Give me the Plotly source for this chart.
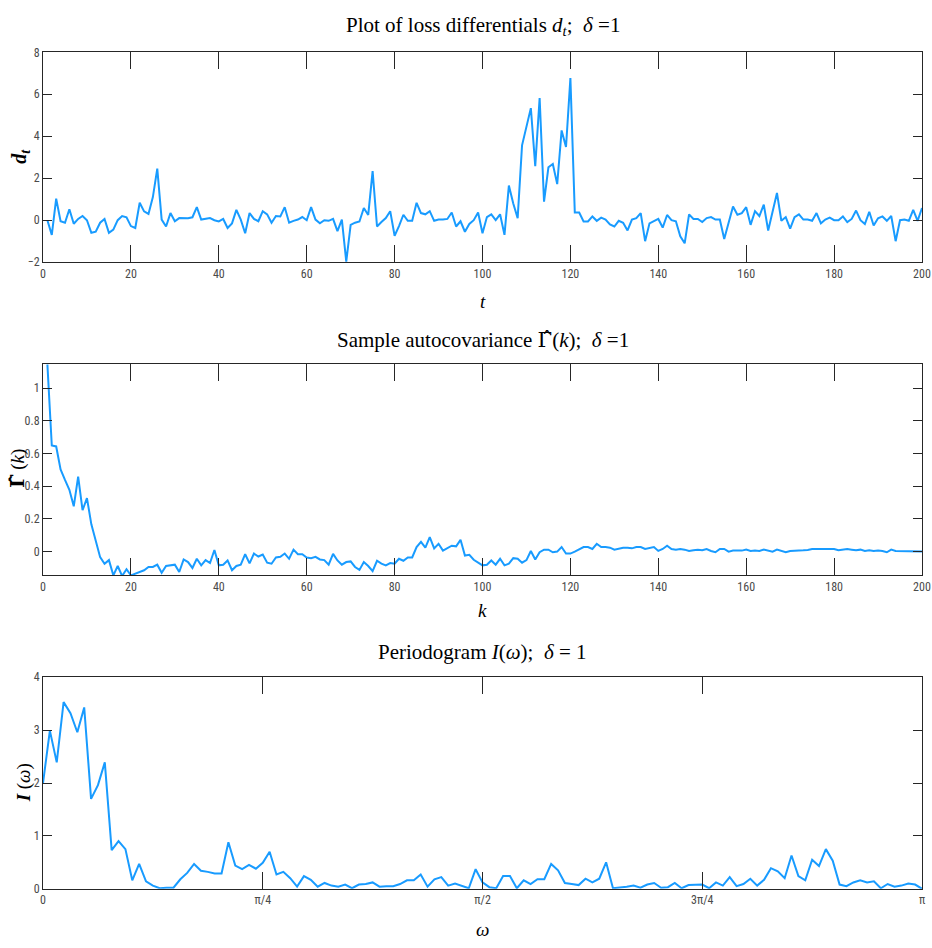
import numpy as np
import plotly.graph_objects as go

# ---------------- data ----------------
t_vals = list(range(1, 201))
d_vals = [
    0.0, -0.7, 1.03, -0.05, -0.12, 0.52, -0.17, 0.06, 0.2, 0.0,
    -0.6, -0.55, -0.12, 0.06, -0.6, -0.45, 0.0, 0.2, 0.14, -0.28,
    -0.37, 0.83, 0.42, 0.3, 1.1, 2.46, 0.03, -0.3, 0.34, -0.05,
    0.1, 0.1, 0.09, 0.14, 0.62, 0.03, 0.06, 0.1, 0.0, -0.06,
    0.06, -0.37, -0.15, 0.49, 0.03, -0.62, 0.34, 0.06, -0.05, 0.43,
    0.28, -0.12, 0.2, 0.18, 0.62, -0.12, -0.03, 0.03, 0.15, 0.0,
    0.62, 0.03, -0.15, 0.0, -0.03, 0.06, -0.52, 0.03, -1.97, -0.22,
    -0.12, -0.06, 0.58, 0.25, 2.34, -0.3, -0.09, 0.1, 0.43, -0.74,
    -0.28, 0.26, -0.03, -0.03, 0.83, 0.34, 0.28, 0.43, -0.03, 0.03,
    0.03, 0.06, 0.37, -0.3, -0.05, -0.55, -0.18, 0.0, 0.37, -0.62,
    0.15, 0.28, 0.0, 0.28, -0.7, 1.65, 0.8, 0.1, 3.57, 4.5,
    5.34, 2.58, 5.82, 0.88, 2.52, 2.68, 1.72, 4.28, 3.49, 6.77,
    0.37, 0.37, -0.06, -0.06, 0.18, -0.03, 0.12, 0.03, -0.2, -0.3,
    -0.03, -0.12, -0.49, 0.03, 0.1, 0.34, -1.0, -0.15, -0.05, 0.06,
    -0.35, 0.25, 0.0, -0.05, -0.77, -1.1, 0.28, 0.06, 0.06, -0.09,
    0.1, 0.15, 0.03, 0.03, -0.9, -0.15, 0.65, 0.26, 0.34, 0.62,
    -0.22, 0.43, 0.2, 0.74, -0.49, 0.4, 1.3, -0.03, 0.15, -0.4,
    0.15, 0.28, 0.03, 0.03, -0.03, 0.34, -0.15, 0.03, 0.12, 0.0,
    0.0, 0.18, -0.09, 0.06, 0.46, 0.0, -0.18, 0.4, -0.25, 0.09,
    0.18, -0.03, 0.2, -1.0, 0.0, 0.03, -0.03, 0.49, -0.03, 0.58,
]

k_vals = list(range(1, 201))
gamma_vals = [
    1.145, 0.649, 0.643, 0.502, 0.438, 0.378, 0.277, 0.458, 0.253, 0.327,
    0.167, 0.066, -0.034, -0.074, -0.052, -0.145, -0.088, -0.149, -0.108, -0.145,
    -0.135, -0.125, -0.114, -0.094, -0.094, -0.080, -0.129, -0.088, -0.084, -0.080,
    -0.125, -0.048, -0.064, -0.100, -0.044, -0.084, -0.052, -0.070, 0.010, -0.084,
    -0.080, -0.054, -0.114, -0.088, -0.080, -0.016, -0.072, -0.012, -0.030, -0.018,
    -0.068, -0.074, -0.036, -0.032, -0.012, -0.044, 0.012, -0.016, -0.016, -0.036,
    -0.040, -0.032, -0.048, -0.052, -0.080, -0.014, -0.054, -0.080, -0.064, -0.060,
    -0.094, -0.112, -0.064, -0.088, -0.120, -0.056, -0.074, -0.084, -0.070, -0.074,
    -0.044, -0.056, -0.036, -0.036, 0.028, 0.060, 0.024, 0.088, 0.020, 0.048,
    0.006, 0.020, 0.036, 0.032, 0.072, -0.024, -0.020, -0.050, -0.066, -0.084,
    -0.080, -0.054, -0.080, -0.044, -0.084, -0.074, -0.040, -0.044, -0.068, -0.052,
    0.004, -0.048, -0.004, 0.012, 0.012, -0.004, 0.000, 0.028, -0.012, -0.012,
    0.000, 0.012, 0.028, 0.028, 0.016, 0.048, 0.028, 0.028, 0.024, 0.012,
    0.020, 0.024, 0.024, 0.020, 0.028, 0.028, 0.016, 0.020, 0.028, 0.004,
    0.016, 0.036, 0.016, 0.012, 0.016, 0.012, 0.004, 0.008, 0.012, 0.008,
    0.016, 0.004, -0.004, 0.016, 0.016, 0.000, 0.006, 0.006, 0.006, 0.012,
    0.004, 0.006, 0.004, 0.012, 0.008, 0.000, 0.012, 0.004, -0.004, 0.004,
    0.004, 0.006, 0.008, 0.010, 0.016, 0.016, 0.016, 0.012, 0.016, 0.016,
    0.008, 0.012, 0.016, 0.012, 0.008, 0.012, 0.004, 0.008, 0.004, 0.006,
    0.004, -0.004, 0.012, 0.004, 0.004, 0.004, 0.004, 0.004, 0.000, 0.000,
]

omega_vals = list(np.linspace(0, np.pi, 129))
pgram_vals = [
    2.0, 2.99, 2.39, 3.53, 3.32, 2.96, 3.43, 1.70, 1.96, 2.39,
    0.73, 0.90, 0.75, 0.16, 0.47, 0.14, 0.06, 0.01, 0.02, 0.02,
    0.18, 0.30, 0.47, 0.34, 0.32, 0.29, 0.29, 0.88, 0.44, 0.37,
    0.45, 0.38, 0.49, 0.70, 0.27, 0.32, 0.20, 0.04, 0.24, 0.17,
    0.04, 0.11, 0.06, 0.04, 0.08, 0.01, 0.08, 0.09, 0.12, 0.04,
    0.05, 0.05, 0.09, 0.16, 0.16, 0.27, 0.04, 0.18, 0.22, 0.06,
    0.10, 0.06, 0.01, 0.37, 0.12, 0.03, 0.01, 0.24, 0.24, 0.01,
    0.16, 0.09, 0.18, 0.18, 0.47, 0.35, 0.11, 0.09, 0.07, 0.19,
    0.12, 0.19, 0.50, 0.01, 0.02, 0.04, 0.06, 0.02, 0.08, 0.11,
    0.02, 0.03, 0.11, 0.01, 0.07, 0.07, 0.08, 0.01, 0.12, 0.06,
    0.22, 0.05, 0.09, 0.19, 0.06, 0.17, 0.39, 0.33, 0.20, 0.63,
    0.24, 0.16, 0.55, 0.43, 0.75, 0.53, 0.08, 0.05, 0.12, 0.16,
    0.12, 0.14, 0.01, 0.09, 0.04, 0.06, 0.10, 0.08, 0.0,
]

top_xticks = [0, 20, 40, 60, 80, 100, 120, 140, 160, 180, 200]
top_yticks = [-2, 0, 2, 4, 6, 8]
mid_yticks = [0, 0.2, 0.4, 0.6, 0.8, 1]
mid_yticklabels = ["0", "0.2", "0.4", "0.6", "0.8", "1"]
bot_xticks = [0, np.pi / 4, np.pi / 2, 3 * np.pi / 4, np.pi]
bot_xticklabels = ["0", "π/4", "π/2", "3π/4", "π"]
bot_yticks = [0, 1, 2, 3, 4]

# ---------------- figure ----------------
LINE = "rgb(24,155,255)"
AX = "#262626"
TICKFONT = dict(family="Liberation Sans Narrow, Roboto Condensed, Liberation Sans, Arial", size=12, color="#4a4a4a")
SERIF = "Liberation Serif, DejaVu Serif, serif"
H = 948.0
GAMMA_HAT = '<span style="font-family:DejaVu Serif">\u0393\u0302</span>'

fig = go.Figure()
fig.add_trace(go.Scatter(x=t_vals, y=d_vals, mode="lines", line=dict(color=LINE, width=2),
                         xaxis="x", yaxis="y", showlegend=False))
fig.add_trace(go.Scatter(x=k_vals, y=gamma_vals, mode="lines", line=dict(color=LINE, width=2),
                         xaxis="x2", yaxis="y2", showlegend=False, cliponaxis=True))
fig.add_trace(go.Scatter(x=omega_vals, y=pgram_vals, mode="lines", line=dict(color=LINE, width=2),
                         xaxis="x3", yaxis="y3", showlegend=False))


def dom(top_px, bot_px):
    return [1 - bot_px / H, 1 - top_px / H]


common_x = dict(showline=True, linecolor=AX, linewidth=1, mirror="allticks", ticks="inside",
                ticklen=17, tickcolor=AX, tickwidth=1, showgrid=False, zeroline=False,
                tickfont=TICKFONT, domain=[0, 1])
common_y = dict(showline=True, linecolor=AX, linewidth=1, mirror="allticks", ticks="inside",
                ticklen=9, tickcolor=AX, tickwidth=1, showgrid=False, zeroline=False,
                tickfont=TICKFONT)

fig.update_layout(
    width=932, height=948,
    margin=dict(l=43, r=10, t=0, b=0),
    paper_bgcolor="white", plot_bgcolor="white",
    xaxis=dict(common_x, anchor="y", range=[0, 200], tickvals=top_xticks),
    yaxis=dict(common_y, anchor="x", domain=dom(46, 259), range=[-2, 8], tickvals=top_yticks),
    xaxis2=dict(common_x, anchor="y2", range=[0, 200], tickvals=top_xticks),
    yaxis2=dict(common_y, anchor="x2", domain=dom(362.7, 577), range=[-0.146, 1.145],
                tickvals=mid_yticks, ticktext=mid_yticklabels),
    xaxis3=dict(common_x, anchor="y3", range=[0, np.pi], tickvals=bot_xticks, ticktext=bot_xticklabels),
    yaxis3=dict(common_y, anchor="x3", domain=dom(680.3, 895), range=[0, 4], tickvals=bot_yticks),
)


def ann(text, x, ypx, size, angle=0, xref="paper"):
    fig.add_annotation(text=text, x=x, y=1 - ypx / H, xref=xref, yref="paper",
                       showarrow=False, textangle=angle, xanchor="center", yanchor="middle",
                       font=dict(family=SERIF, size=size, color="black"))


# titles
ann("Plot of loss differentials <i>d<sub>t</sub></i>; &nbsp;<i>δ</i> =1", 0.5, 19, 21)
ann("Sample autocovariance " + GAMMA_HAT + "(<i>k</i>); &nbsp;<i>δ</i> =1", 0.5, 338, 21)
ann("Periodogram <i>I</i>(<i>ω</i>); &nbsp;<i>δ</i> = 1", 0.5, 655, 21)

# x-axis labels
ann("<i>t</i>", 0.5, 299, 19)
ann("<i>k</i>", 0.5, 613, 19)
ann("<i>ω</i>", 0.5, 936, 19)


def xfrac(px):
    return (px - 43) / 879.0


# y-axis labels
ann("<b><i>d<sub>t</sub></i></b>", xfrac(21), 152, 20, angle=-90)
ann("<b>" + GAMMA_HAT + "</b> (<i>k</i>)", xfrac(17), 469, 19, angle=-90)
ann("<b><i>I</i></b> (<i>ω</i>)", xfrac(24), 788, 19, angle=-90)

fig.write_html("out.html")
